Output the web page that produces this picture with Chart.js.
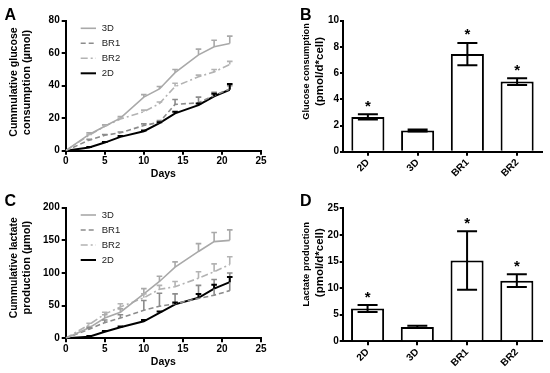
<!DOCTYPE html>
<html><head><meta charset="utf-8">
<script src="https://cdn.jsdelivr.net/npm/chart.js@4"></script>
<style>
html,body{margin:0;padding:0;background:#fff;}
#wrap{position:relative;width:550px;height:373px;overflow:hidden;background:#fff;}
canvas{position:absolute;}
</style></head><body>
<div id="wrap">
<canvas id="cA" width="275" height="186" style="left:0;top:0"></canvas>
<canvas id="cB" width="275" height="186" style="left:275px;top:0"></canvas>
<canvas id="cC" width="275" height="187" style="left:0;top:186px"></canvas>
<canvas id="cD" width="275" height="187" style="left:275px;top:186px"></canvas>
</div>
<script>
// ---------- data ----------
const days = [0, 3, 5, 7, 10, 12, 14, 17, 19, 21];
const seriesNames = ['3D', 'BR1', 'BR2', '2D'];

// Panel A: cumulative glucose consumption (µmol)
const gluc3D     = [0, 10, 15, 20, 33, 38, 48, 59, 64, 66];
const gluc3DErr  = [0, 1, 1, 1, 1.5, 1.5, 2, 3.5, 4, 4.5];
const glucBR1    = [0, 6.5, 9.5, 11, 15.5, 17.5, 28.5, 29.5, 34, 38];
const glucBR1Err = [0, 0.5, 0.5, 0.5, 1, 1, 3, 3.5, 2, 2];
const glucBR2    = [0, 9.5, 15, 19.5, 24, 29, 39.5, 45.5, 48.5, 53];
const glucBR2Err = [0, 0.5, 0.5, 0.5, 1, 1, 2, 1, 1.5, 2];
const gluc2D     = [0, 2, 5, 8.5, 12, 17, 23, 28, 33.5, 37.5];
const gluc2DErr  = [0, 0.3, 0.3, 0.5, 0.5, 0.5, 1, 1, 1.5, 3.5];

// Panel C: cumulative lactate production (µmol)
const lac3D     = [0, 16, 31, 40, 68, 87, 109, 133, 148, 150];
const lac3DErr  = [0, 2, 5, 5, 8, 8, 8, 12, 14, 16];
const lacBR1    = [0, 14, 24, 31, 43, 49, 53, 61, 66, 73];
const lacBR1Err = [0, 2, 4, 5, 15, 20, 15, 20, 24, 27];
const lacBR2    = [0, 21, 37, 48, 62, 75, 79, 92, 102, 113];
const lacBR2Err = [0, 2, 3, 5, 6, 6, 8, 10, 12, 12];
const lac2D     = [0, 2.5, 10, 17, 26, 39, 52, 62, 76, 86];
const lac2DErr  = [0, 1, 1, 1, 2, 2, 3, 6, 6, 8];

// Panels B & D: rates per cell
const barCats     = ['2D', '3D', 'BR1', 'BR2'];
const glucRate    = [2.65, 1.62, 7.45, 5.35];
const glucRateErr = [0.2, 0.08, 0.85, 0.25];
const lacRate     = [6.15, 2.7, 15.2, 11.4];
const lacRateErr  = [0.65, 0.2, 5.5, 1.2];
const significant = [true, false, true, true];

// tick labels / axis ranges
const dayTicks = {min: 0, max: 25, step: 5};
const glucTicks = {min: 0, max: 80, step: 20};
const lacTicks = {min: 0, max: 200, step: 50};
const glucRateTicks = {min: 0, max: 10, step: 2};
const lacRateTicks = {min: 0, max: 25, step: 5};

// ---------- styles ----------
const FONT = "'Liberation Sans', Arial, Helvetica, sans-serif";
const seriesStyle = {
  '3D':  {color: '#a9a9a9', dash: [], width: 1.6},
  'BR1': {color: '#8c8c8c', dash: [5, 3], width: 1.6},
  'BR2': {color: '#b3b3b3', dash: [7, 3, 2, 3], width: 1.6},
  '2D':  {color: '#000000', dash: [], width: 2}
};

function axisY(t, leftW, tickLen, pad) {
  return {
    min: t.min, max: t.max,
    ticks: {stepSize: t.step, color: '#000', padding: pad, font: {family: FONT, size: 10, weight: 'bold'}},
    grid: {display: true, drawOnChartArea: false, drawTicks: true, tickLength: tickLen, color: '#000', lineWidth: 2},
    border: {display: true, color: '#000', width: 2},
    afterFit(s) { s.width = leftW; }
  };
}

function decoPlugin(cfg) {
  return {
    id: 'deco_' + cfg.letter,
    afterDraw(chart) {
      const ctx = chart.ctx;
      ctx.save();
      ctx.fillStyle = '#000';
      // panel letter
      ctx.font = 'bold 16px ' + FONT;
      ctx.textAlign = 'left'; ctx.textBaseline = 'alphabetic';
      ctx.fillText(cfg.letter, cfg.letterX, cfg.letterY);
      // y title
      ctx.textAlign = 'center'; ctx.textBaseline = 'middle';
      cfg.yTitle.forEach((line, i) => {
        ctx.font = 'bold ' + cfg.yTitleSize[i] + 'px ' + FONT;
        ctx.save();
        ctx.translate(cfg.yTitleX[i], cfg.yTitleY[i]);
        ctx.rotate(-Math.PI / 2);
        ctx.fillText(line, 0, 0);
        ctx.restore();
      });
      // x title
      if (cfg.xTitle) {
        ctx.font = 'bold 10.5px ' + FONT;
        const a = chart.chartArea;
        ctx.fillText(cfg.xTitle, (a.left + a.right) / 2, cfg.xTitleY);
      }
      // legend
      if (cfg.legend) {
        const L = cfg.legend;
        chart.data.datasets.forEach((ds, i) => {
          const y = L.y0 + i * L.dy;
          ctx.save();
          ctx.strokeStyle = ds.borderColor;
          ctx.lineWidth = ds.borderWidth;
          ctx.setLineDash(ds.borderDash || []);
          ctx.beginPath(); ctx.moveTo(L.x0, y); ctx.lineTo(L.x1, y); ctx.stroke();
          ctx.restore();
          ctx.font = '9.5px ' + FONT;
          ctx.fillStyle = '#222';
          ctx.textAlign = 'left'; ctx.textBaseline = 'middle';
          ctx.fillText(ds.label, L.tx, y + 0.5);
        });
      }
      ctx.restore();
    }
  };
}

const lineErrPlugin = {
  id: 'lineErr',
  afterDatasetsDraw(chart) {
    const ctx = chart.ctx;
    const xs = chart.scales.x, ys = chart.scales.y;
    chart.data.datasets.forEach((ds) => {
      ctx.save();
      ctx.strokeStyle = ds.borderColor;
      ctx.lineWidth = ds.borderWidth;
      ds.data.forEach((p, j) => {
        const e = ds.err[j];
        if (!e) return;
        const x = xs.getPixelForValue(p.x);
        const y0 = ys.getPixelForValue(p.y);
        const y1 = ys.getPixelForValue(p.y + e);
        ctx.beginPath();
        ctx.moveTo(x, y0); ctx.lineTo(x, y1);
        ctx.moveTo(x - 2.8, y1); ctx.lineTo(x + 2.8, y1);
        ctx.stroke();
      });
      ctx.restore();
    });
  }
};

const barErrPlugin = {
  id: 'barErr',
  afterDatasetsDraw(chart) {
    const ctx = chart.ctx;
    const xs = chart.scales.x, ys = chart.scales.y;
    const ds = chart.data.datasets[0];
    ctx.save();
    ctx.strokeStyle = '#000';
    ctx.fillStyle = '#000';
    ctx.lineWidth = 2;
    ds.data.forEach((v, j) => {
      const e = ds.err[j];
      const x = xs.getPixelForValue(j);
      const yt = ys.getPixelForValue(v + e);
      const yb = ys.getPixelForValue(v - e);
      ctx.beginPath();
      ctx.moveTo(x, yt); ctx.lineTo(x, yb);
      ctx.moveTo(x - 10, yt); ctx.lineTo(x + 10, yt);
      ctx.moveTo(x - 10, yb); ctx.lineTo(x + 10, yb);
      ctx.stroke();
      if (ds.sig[j]) {
        ctx.font = 'bold 15px ' + FONT;
        ctx.textAlign = 'center'; ctx.textBaseline = 'alphabetic';
        ctx.fillText('*', x, yt - 3.5);
      }
    });
    ctx.restore();
  }
};

function lineChart(id, values, errors, yT, box, deco) {
  const datasets = seriesNames.map((name, k) => ({
    label: name,
    data: days.map((d, i) => ({x: d, y: values[k][i]})),
    err: errors[k],
    borderColor: seriesStyle[name].color,
    borderDash: seriesStyle[name].dash,
    borderWidth: seriesStyle[name].width,
    pointRadius: 0, tension: 0, fill: false
  }));
  return new Chart(document.getElementById(id), {
    type: 'line',
    data: {datasets},
    options: {
      responsive: false, animation: false, events: [],
      layout: {padding: {left: 0, top: box.top, right: box.W - box.right, bottom: 0}},
      plugins: {legend: {display: false}, tooltip: {enabled: false}},
      scales: {
        x: {
          type: 'linear', min: dayTicks.min, max: dayTicks.max,
          ticks: {stepSize: dayTicks.step, color: '#000', padding: 1, font: {family: FONT, size: 10, weight: 'bold'}},
          grid: {display: true, drawOnChartArea: false, drawTicks: true, tickLength: 4, color: '#000', lineWidth: 2},
          border: {display: true, color: '#000', width: 2},
          afterFit(s) { s.height = box.H - box.bottom; }
        },
        y: axisY(yT, box.left, 4, 2)
      }
    },
    plugins: [lineErrPlugin, decoPlugin(deco)]
  });
}

function barChart(id, values, errors, yT, box, deco) {
  return new Chart(document.getElementById(id), {
    type: 'bar',
    data: {
      labels: barCats,
      datasets: [{
        data: values, err: errors, sig: significant,
        backgroundColor: '#fff', borderColor: '#000', borderWidth: 2,
        barPercentage: 0.665, categoryPercentage: 1
      }]
    },
    options: {
      responsive: false, animation: false, events: [],
      layout: {padding: {left: 0, top: box.top, right: box.W - box.right, bottom: 0}},
      plugins: {legend: {display: false}, tooltip: {enabled: false}},
      scales: {
        x: {
          ticks: {color: '#000', padding: 1, autoSkip: false, minRotation: 45, maxRotation: 45, font: {family: FONT, size: 10, weight: 'bold'}},
          grid: {display: true, offset: false, drawOnChartArea: false, drawTicks: true, tickLength: 4, color: '#000', lineWidth: 2},
          border: {display: true, color: '#000', width: 2},
          afterFit(s) { s.height = box.H - box.bottom; }
        },
        y: axisY(yT, box.left, 3, 1)
      }
    },
    plugins: [barErrPlugin, decoPlugin(deco)]
  });
}

lineChart('cA', [gluc3D, glucBR1, glucBR2, gluc2D], [gluc3DErr, glucBR1Err, glucBR2Err, gluc2DErr], glucTicks,
  {W: 275, H: 186, left: 65.7, right: 261, top: 20.7, bottom: 150.7},
  {letter: 'A', letterX: 4.5, letterY: 19.5, yTitle: ['Cummulative glucose', 'consumption (µmol)'],
   yTitleX: [14, 26.7], yTitleY: [82, 82.5], yTitleSize: [10.6, 11],
   xTitle: 'Days', xTitleY: 174, legend: {x0: 80.7, x1: 96, tx: 101.7, y0: 28.3, dy: 15}});

barChart('cB', glucRate, glucRateErr, glucRateTicks,
  {W: 275, H: 186, left: 68, right: 267, top: 20.7, bottom: 151.7},
  {letter: 'B', letterX: 25, letterY: 19.5, yTitle: ['Glucose consumption', '(pmol/d*cell)'],
   yTitleX: [31.7, 45], yTitleY: [71.5, 71.5], yTitleSize: [9.2, 11.5]});

lineChart('cC', [lac3D, lacBR1, lacBR2, lac2D], [lac3DErr, lacBR1Err, lacBR2Err, lac2DErr], lacTicks,
  {W: 275, H: 187, left: 65.7, right: 261, top: 21.7, bottom: 152.3},
  {letter: 'C', letterX: 4.5, letterY: 19.5, yTitle: ['Cummulative lactate', 'production (µmol)'],
   yTitleX: [14, 26.7], yTitleY: [81.7, 81.7], yTitleSize: [10.4, 11],
   xTitle: 'Days', xTitleY: 176, legend: {x0: 80.7, x1: 96, tx: 101.7, y0: 29, dy: 15}});

barChart('cD', lacRate, lacRateErr, lacRateTicks,
  {W: 275, H: 187, left: 67.7, right: 266.7, top: 22.3, bottom: 155.3},
  {letter: 'D', letterX: 25, letterY: 20, yTitle: ['Lactate production', '(pmol/d*cell)'],
   yTitleX: [31.7, 45], yTitleY: [78.3, 76.7], yTitleSize: [9.4, 11.5]});
</script>
</body></html>
